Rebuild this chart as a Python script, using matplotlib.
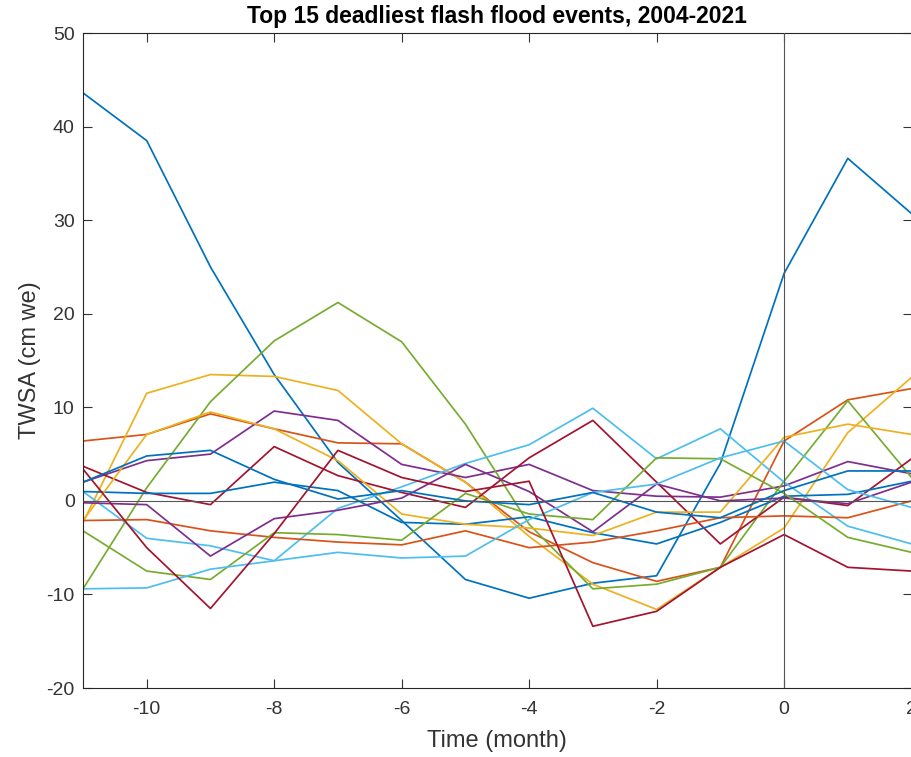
import matplotlib
matplotlib.use("Agg")
import matplotlib.pyplot as plt

plt.rcParams['font.family'] = ['Liberation Sans', 'DejaVu Sans']
plt.rcParams['axes.unicode_minus'] = False

# months relative to the event
meses = [-11, -10, -9, -8, -7, -6, -5, -4, -3, -2, -1, 0, 1, 2]

# TWSA (cm we) for each of the 15 events
ev01 = [43.6, 38.5, 25.0, 13.5, 4.1, -2.1, -8.4, -10.4, -8.8, -8.0, 4.0, 24.3, 36.6, 30.7]
ev02 = [6.4, 7.1, 9.3, 7.7, 6.2, 6.1, 2.0, -3.3, -6.6, -8.6, -7.1, 6.4, 10.8, 12.0]
ev03 = [-2.3, 11.5, 13.5, 13.3, 11.8, 6.1, 2.0, -3.8, -8.9, -11.6, -7.1, -2.9, 7.3, 13.2]
ev04 = [2.0, 4.3, 5.0, 9.6, 8.6, 3.9, 2.5, 3.9, 1.1, 0.5, 0.4, 1.6, 4.2, 2.9]
ev05 = [-9.4, 1.4, 10.6, 17.1, 21.2, 17.0, 8.2, -2.5, -9.4, -8.9, -7.1, 2.1, 10.7, 2.5]
ev06 = [1.0, -4.0, -4.8, -6.4, -0.8, 1.5, 4.0, 6.0, 9.9, 4.5, 7.7, 2.0, -2.7, -4.6]
ev07 = [3.7, 0.9, -0.4, 5.8, 2.7, 0.9, -0.7, 4.6, 8.6, 2.0, -4.6, 0.4, -0.5, 4.5]
ev08 = [1.0, 0.8, 0.8, 2.0, 1.1, -2.3, -2.5, -1.7, -3.4, -4.6, -2.3, 0.5, 0.7, 2.1]
ev09 = [-2.1, -2.0, -3.2, -3.9, -4.4, -4.7, -3.2, -5.0, -4.4, -3.2, -1.8, -1.6, -1.8, 0.0]
ev10 = [-2.1, 7.1, 9.5, 7.7, 4.3, -1.4, -2.5, -2.9, -3.7, -1.2, -1.2, 6.8, 8.2, 7.1]
ev11 = [-0.2, -0.4, -5.9, -1.9, -1.0, 0.3, 3.9, 1.0, -3.3, 1.8, 0.0, 0.3, -0.3, 2.0]
ev12 = [-3.2, -7.5, -8.4, -3.4, -3.6, -4.2, 0.8, -1.4, -2.0, 4.6, 4.5, 0.8, -3.9, -5.5]
ev13 = [-9.4, -9.3, -7.3, -6.4, -5.5, -6.1, -5.9, -2.0, 0.9, 1.8, 4.6, 6.4, 1.2, -0.7]
ev14 = [3.4, -5.0, -11.5, -3.5, 5.4, 2.5, 1.0, 2.1, -13.4, -11.8, -7.1, -3.6, -7.1, -7.5]
ev15 = [2.0, 4.8, 5.4, 2.3, 0.2, 1.1, 0.0, -0.4, 0.9, -1.2, -1.8, 1.1, 3.2, 3.2]

eventos = [ev01, ev02, ev03, ev04, ev05, ev06, ev07, ev08,
           ev09, ev10, ev11, ev12, ev13, ev14, ev15]

# default matlab color order
colores = ['#0072BD', '#D95319', '#EDB120', '#7E2F8E', '#77AC30', '#4DBEEE', '#A2142F']

fig = plt.figure(figsize=(9.12, 7.57), dpi=100)
ax = fig.add_axes([0.091, 0.0911, 0.9085, 0.8653])

for i, ev in enumerate(eventos):
    ax.plot(meses, ev, color=colores[i % len(colores)], lw=1.25)

ax.axhline(0, color='#555555', lw=0.8, zorder=3)
ax.axvline(0, color='#555555', lw=0.8, zorder=3)

ax.set_xlim(-11, 2)
ax.set_ylim(-20, 50)
ax.set_xticks([-10, -8, -6, -4, -2, 0, 2])
ax.set_yticks([-20, -10, 0, 10, 20, 30, 40, 50])

ax.tick_params(direction='in', length=6.5, width=0.8, colors='#333333',
               labelsize=14, top=True, right=True, pad=6)
ax.tick_params(axis='x', pad=9)
for s in ax.spines.values():
    s.set_color('#262626')
    s.set_linewidth(0.8)

ax.set_xlabel('Time (month)', fontsize=17, color='#333333', labelpad=9)
ax.set_ylabel('TWSA (cm we)', fontsize=17, color='#333333', labelpad=4)
ax.set_title('Top 15 deadliest flash flood events, 2004-2021', fontsize=16.5,
             fontweight='bold', pad=7)

plt.savefig('out.png', dpi=100)
